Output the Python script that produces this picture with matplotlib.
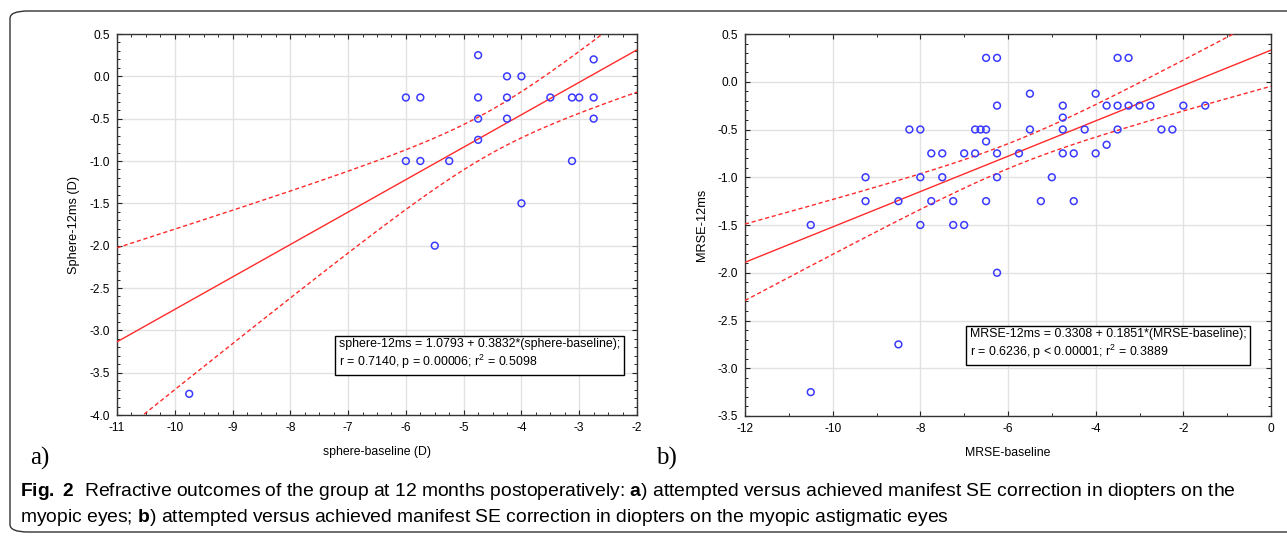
import numpy as np
import matplotlib
matplotlib.use("Agg")
import matplotlib.pyplot as plt
from matplotlib.patches import FancyBboxPatch

# ---------------- data ----------------
sphere_baseline = [-4.75, -2.75, -4.25, -4.0, -6.0, -5.75, -4.75, -4.25, -3.5, -3.125,
                   -3.0, -2.75, -4.75, -4.25, -2.75, -4.75, -6.0, -5.75, -5.25, -3.125,
                   -4.0, -5.5, -9.75]
sphere_12ms = [0.25, 0.2, 0.0, 0.0, -0.25, -0.25, -0.25, -0.25, -0.25, -0.25,
               -0.25, -0.25, -0.5, -0.5, -0.5, -0.75, -1.0, -1.0, -1.0, -1.0,
               -1.5, -2.0, -3.75]
sphere_coef = (1.0793, 0.3832)

mrse_baseline = [-6.5, -6.25, -3.5, -3.25,
                 -5.5, -4.0,
                 -6.25, -4.75, -3.75, -3.5, -3.25, -3.0, -2.75, -2.0, -1.5,
                 -4.75,
                 -8.25, -8.0, -6.75, -6.625, -6.5, -5.5, -4.75, -4.25, -3.5, -2.5, -2.25,
                 -6.5, -3.75,
                 -7.75, -7.5, -7.0, -6.75, -6.25, -5.75, -4.75, -4.5, -4.0,
                 -9.25, -8.0, -7.5, -6.25, -5.0,
                 -9.25, -8.5, -7.75, -7.25, -6.5, -5.25, -4.5,
                 -10.5, -8.0, -7.25, -7.0,
                 -6.25, -8.5, -10.5]
mrse_12ms = [0.25, 0.25, 0.25, 0.25,
             -0.125, -0.125,
             -0.25, -0.25, -0.25, -0.25, -0.25, -0.25, -0.25, -0.25, -0.25,
             -0.375,
             -0.5, -0.5, -0.5, -0.5, -0.5, -0.5, -0.5, -0.5, -0.5, -0.5, -0.5,
             -0.625, -0.66,
             -0.75, -0.75, -0.75, -0.75, -0.75, -0.75, -0.75, -0.75, -0.75,
             -1.0, -1.0, -1.0, -1.0, -1.0,
             -1.25, -1.25, -1.25, -1.25, -1.25, -1.25, -1.25,
             -1.5, -1.5, -1.5, -1.5,
             -2.0, -2.75, -3.25]
mrse_coef = (0.3308, 0.1851)

T_CRIT_A = 1.98
T_CRIT_B = 1.88

text_a = ("sphere-12ms = 1.0793 + 0.3832*(sphere-baseline);\n"
          "r = 0.7140, p = 0.00006; r$^2$ = 0.5098")
text_b = ("MRSE-12ms = 0.3308 + 0.1851*(MRSE-baseline);\n"
          "r = 0.6236, p < 0.00001; r$^2$ = 0.3889")

cap1 = (r"$\bf{Fig.\ 2}$  Refractive outcomes of the group at 12 months postoperatively: "
        r"$\bf{a}$) attempted versus achieved manifest SE correction in diopters on the")
cap2 = (r"myopic eyes; $\bf{b}$) attempted versus achieved manifest SE correction in diopters "
        r"on the myopic astigmatic eyes")

W, H = 1287, 537

plt.rcParams['font.family'] = ['Liberation Sans', 'DejaVu Sans']
plt.rcParams['mathtext.fontset'] = 'custom'
plt.rcParams['mathtext.rm'] = 'Liberation Sans'
plt.rcParams['mathtext.it'] = 'Liberation Sans:italic'
plt.rcParams['mathtext.bf'] = 'Liberation Sans:bold'
fig = plt.figure(figsize=(W / 100, H / 100), dpi=100)

PT_COLOR = '#3a3aff'
LN_COLOR = '#ff2a2a'
TICK_FS = 8.6


def band(xs, ys, coef, tcrit, xgrid):
    xs = np.asarray(xs, float)
    ys = np.asarray(ys, float)
    a, b = coef
    resid = ys - (a + b * xs)
    n = len(xs)
    s = np.sqrt(np.sum(resid ** 2) / (n - 2))
    sxx = np.sum((xs - xs.mean()) ** 2)
    yhat = a + b * xgrid
    half = tcrit * s * np.sqrt(1.0 / n + (xgrid - xs.mean()) ** 2 / sxx)
    return yhat, yhat - half, yhat + half


def panel(rect, xs, ys, coef, tcrit, xlim, ylim, xmajor, xminor, xlabel, ylabel):
    ax = fig.add_axes(rect)
    xg = np.linspace(xlim[0], xlim[1], 400)
    yhat, lo, hi = band(xs, ys, coef, tcrit, xg)
    ax.plot(xg, yhat, color=LN_COLOR, lw=1.0, zorder=3)
    ax.plot(xg, lo, color=LN_COLOR, lw=1.0, ls=(0, (3, 2)), zorder=3)
    ax.plot(xg, hi, color=LN_COLOR, lw=1.0, ls=(0, (3, 2)), zorder=3)
    ax.scatter(xs, ys, s=24, facecolors='none', edgecolors=PT_COLOR, linewidths=1.1, zorder=4)
    ax.set_xlim(*xlim)
    ax.set_ylim(*ylim)
    yt = np.arange(ylim[0], ylim[1] + 0.01, 0.5)
    ax.set_xticks(xmajor)
    ax.set_xticks(xminor, minor=True)
    ax.set_yticks(yt)
    ax.set_yticks(np.arange(ylim[0], ylim[1] + 0.01, 0.1), minor=True)
    ax.set_xticklabels([f"{v:g}" for v in xmajor])
    ax.set_yticklabels([f"{v:.1f}" for v in yt])
    ax.grid(True, which='major', color='#e2e2e2', lw=1.0, zorder=0)
    ax.set_axisbelow(True)
    ax.tick_params(which='both', direction='in', top=True, right=True, labelsize=TICK_FS,
                   colors='#222222', labelcolor='black')
    ax.tick_params(which='major', length=3.5, width=0.8, pad=5)
    ax.tick_params(which='minor', length=2, width=0.7)
    for sp in ax.spines.values():
        sp.set_color('#333333')
        sp.set_linewidth(1.0)
    ax.set_xlabel(xlabel, fontsize=8.8, labelpad=9)
    ax.set_ylabel(ylabel, fontsize=9.2, labelpad=7)
    return ax


ax1 = panel([117 / W, 1 - 415 / H, 520 / W, 381 / H], sphere_baseline, sphere_12ms, sphere_coef,
            T_CRIT_A, (-11, -2), (-4.0, 0.5), np.arange(-11, -1, 1), np.arange(-11, -1.99, 0.25),
            'sphere-baseline (D)', 'Sphere-12ms (D)')
ax2 = panel([745 / W, 1 - 416 / H, 526 / W, 382 / H], mrse_baseline, mrse_12ms, mrse_coef,
            T_CRIT_B, (-12, 0), (-3.5, 0.5), np.arange(-12, 1, 2), np.arange(-12, 0.01, 1),
            'MRSE-baseline', 'MRSE-12ms')

box = dict(boxstyle='square,pad=0.3', fc='white', ec='black', lw=1.0)
fig.text(339 / W, 1 - 338 / H, text_a, fontsize=8.9, va='top', ha='left', bbox=box,
         linespacing=1.2)
fig.text(970 / W, 1 - 328 / H, text_b, fontsize=8.9, va='top', ha='left', bbox=box,
         linespacing=1.2)

fig.text(30 / W, 1 - 458 / H, 'a)', fontsize=18, family='Liberation Serif', va='center', ha='left')
fig.text(656 / W, 1 - 458 / H, 'b)', fontsize=18, family='Liberation Serif', va='center', ha='left')

fig.text(20 / W, 1 - 492 / H, cap1, fontsize=13.85, va='center', ha='left')
fig.text(20 / W, 1 - 518 / H, cap2, fontsize=13.85, va='center', ha='left')

frame = FancyBboxPatch((10 / W, 5 / H), 1.2, 1 - 16 / H, boxstyle='round,pad=0,rounding_size=0.014',
                       transform=fig.transFigure, fc='none', ec='#333333', lw=1.0, clip_on=False)
fig.patches.append(frame)

fig.savefig('out.png', dpi=100)
